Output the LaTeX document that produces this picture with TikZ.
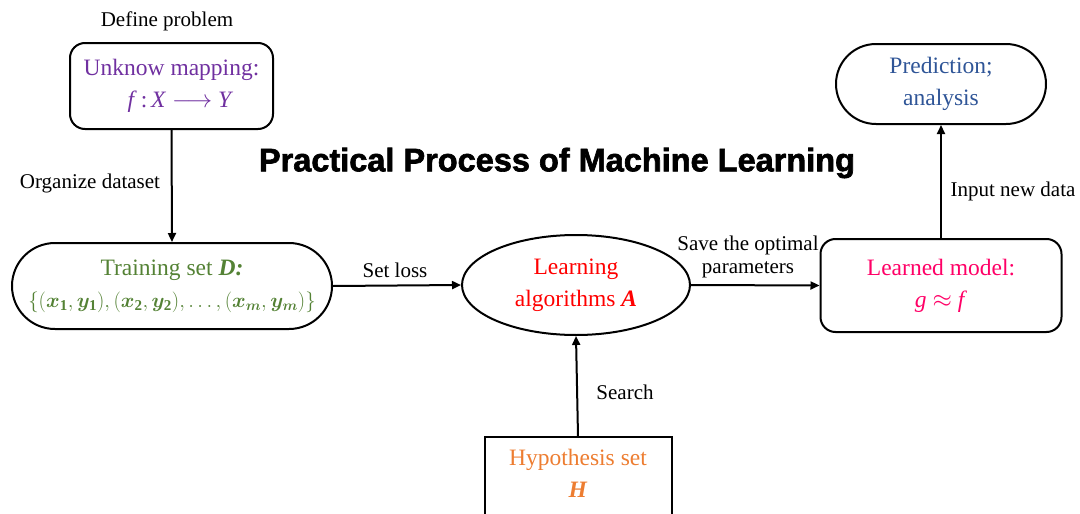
\documentclass[tikz,border=0pt]{standalone}
\usepackage{amsmath,bm}
\usepackage{fontspec}
\setmainfont{Liberation Serif}
\newfontfamily\titlefont[FakeBold=2]{Liberation Sans Bold}
\usetikzlibrary{arrows.meta,shapes.geometric}
\definecolor{cpurple}{RGB}{112,48,160}
\definecolor{cgreen}{RGB}{84,130,53}
\definecolor{cpink}{RGB}{255,0,102}
\definecolor{cblue}{RGB}{47,85,151}
\definecolor{corange}{RGB}{237,125,49}
\tikzset{
  box/.style={draw=black,line width=2pt,inner sep=0pt,align=center,font=\fontsize{23.5}{32}\selectfont},
  lbl/.style={inner sep=0pt,align=center,font=\fontsize{21}{23}\selectfont},
  arr/.style={line width=2pt,-{Triangle[length=9pt,width=8pt]}}
}
\begin{document}
\begin{tikzpicture}[x=1pt,y=-1pt]
\useasboundingbox (0,0) rectangle (1080,514);
\node[box,rounded corners=15pt,minimum width=203pt,minimum height=86pt,text=cpurple] (map) at (171.5,86) {Unknow mapping:\\\hspace*{18pt}\textit{f}\,:\,\textit{X} $\longrightarrow$ \textit{Y}};
\node[box,rounded corners=43pt,minimum width=320pt,minimum height=86pt,text=cgreen] (train) at (172,286) {Training set \textbf{\textit{D:}}\\{\fontsize{21.5}{26}\selectfont$\{(\bm{x}_{\mathbf{1}},\bm{y}_{\mathbf{1}}),(\bm{x}_{\mathbf{2}},\bm{y}_{\mathbf{2}}),\ldots,(\bm{x}_{\bm{m}},\bm{y}_{\bm{m}})\}$}};
\node[box,ellipse,minimum width=228pt,minimum height=100pt,text=red] (learn) at (576,285) {Learning\\algorithms \textbf{\textit{A}}};
\node[box,rounded corners=15pt,minimum width=241pt,minimum height=93pt,text=cpink] (model) at (941,285.5) {Learned model:\\\textit{g} $\approx$ \textit{f}};
\node[box,rounded corners=40pt,minimum width=210pt,minimum height=80pt,text=cblue] (pred) at (941,84) {Prediction;\\analysis};
\node[box,minimum width=187pt,minimum height=100pt,anchor=north] (hyp) at (578,436) {};
\node[inner sep=0pt,align=center,font=\fontsize{23.5}{32}\selectfont,text=corange] (hyptext) at (578,473) {Hypothesis set\\\textbf{\textit{H}}};
\node[lbl] (tdef) at (167,21) {Define problem};
\node[lbl] (torg) at (90,183) {Organize dataset};
\node[lbl] (tloss) at (395,270) {Set loss};
\node[lbl] (tsave) at (748,257) {Save the optimal\\parameters};
\node[lbl] (tin) at (1013,191) {Input new data};
\node[lbl] (tsearch) at (625,392) {Search};
\node[inner sep=0pt,font=\titlefont\fontsize{32.5}{36}\selectfont] (title) at (557,163) {Practical Process of Machine Learning};
\draw[arr] (map.south) -- (train.north);
\draw[arr] (train.east) -- (learn.west);
\draw[arr] (learn.east) -- (model.west);
\draw[arr] (model.north) -- (pred.south);
\draw[arr] (hyp.north) -- (learn.south);
\end{tikzpicture}
\end{document}
